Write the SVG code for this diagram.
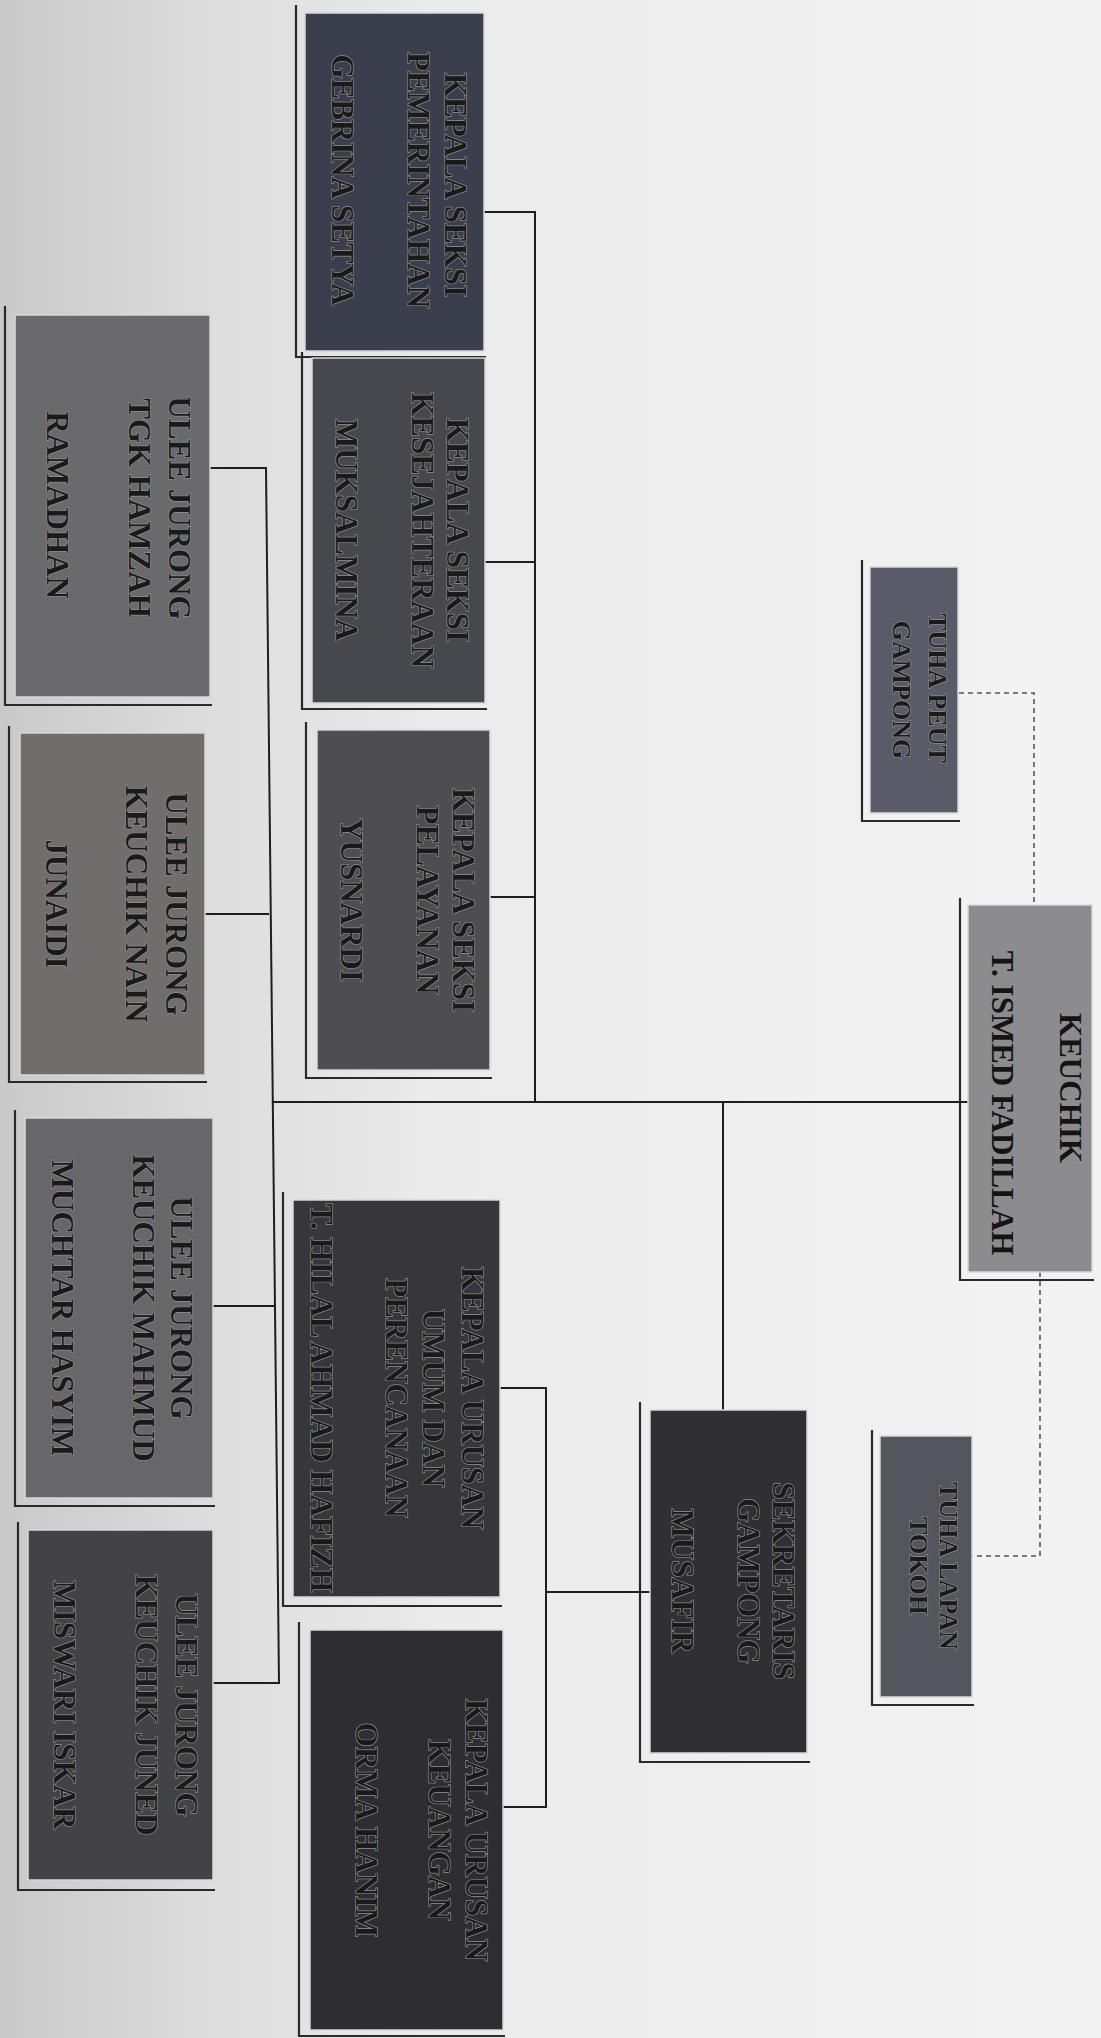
<svg xmlns="http://www.w3.org/2000/svg" width="1101" height="2038" viewBox="0 0 1101 2038">
<defs>
<linearGradient id="bg" x1="0" y1="0" x2="1" y2="0">
<stop offset="0" stop-color="#c9c9c9"/>
<stop offset="0.18" stop-color="#dcdcdc"/>
<stop offset="0.4" stop-color="#ebebeb"/>
<stop offset="1" stop-color="#f3f3f3"/>
</linearGradient>
<style>
.box{stroke:#d8d8d8;stroke-width:1.5}
.frame{fill:none;stroke:#2a2a2a;stroke-width:2.2}
.t{font-family:"Liberation Serif","Times New Roman",serif;font-weight:bold;font-size:31px;text-anchor:middle;fill:#1a1a1a;stroke:#8e8e8e;stroke-width:1.4;paint-order:stroke}
.ts{font-size:26px}
.k{fill:#141414;stroke:none}
.ln{fill:none;stroke:#1e1e1e;stroke-width:2}
.dash{fill:none;stroke:#555;stroke-width:1.6;stroke-dasharray:5 4}
</style>
</defs>
<rect width="1101" height="2038" fill="url(#bg)"/>

<g id="connectors">
<polyline class="ln" points="484,212 535,212 535,1102"/>
<line class="ln" x1="485" y1="562" x2="535" y2="562"/>
<line class="ln" x1="490" y1="897" x2="535" y2="897"/>
<line class="ln" x1="273" y1="1102" x2="968" y2="1102"/>
<line class="ln" x1="723" y1="1102" x2="723" y2="1410"/>
<line class="ln" x1="546" y1="1592" x2="650" y2="1592"/>
<polyline class="ln" points="500,1388 546,1388 546,1807 503,1807"/>
<polyline class="ln" points="210,468 266,468 279,1683 213,1683"/>
<line class="ln" x1="205" y1="914" x2="269" y2="914"/>
<line class="ln" x1="213" y1="1306" x2="274" y2="1306"/>
<polyline class="dash" points="959,693 1034,693 1034,905"/>
<polyline class="dash" points="1040,1272 1040,1556 972,1556"/>
</g>

<g id="kasi-pemerintahan">
<path class="frame" d="M296 5 V357 H486"/>
<rect class="box" x="305" y="13" width="179" height="338" fill="#3b3e4c"/>
<text class="t" transform="translate(445,185) rotate(90)">KEPALA SEKSI</text>
<text class="t" transform="translate(408,180) rotate(90)">PEMERINTAHAN</text>
<text class="t" transform="translate(332,180) rotate(90)">GEBRINA SETYA</text>
</g>

<g id="kasi-kesejahteraan">
<path class="frame" d="M302 352 V709 H487"/>
<rect class="box" x="312" y="358" width="173" height="345" fill="#47474e"/>
<text class="t" transform="translate(447,530) rotate(90)">KEPALA SEKSI</text>
<text class="t" transform="translate(412,530) rotate(90)">KESEJAHTERAAN</text>
<text class="t" transform="translate(336,530) rotate(90)">MUKSALMINA</text>
</g>

<g id="kasi-pelayanan">
<path class="frame" d="M306 722 V1078 H492"/>
<rect class="box" x="317" y="730" width="173" height="340" fill="#4d4d52"/>
<text class="t" transform="translate(453,900) rotate(90)">KEPALA SEKSI</text>
<text class="t" transform="translate(417,900) rotate(90)">PELAYANAN</text>
<text class="t" transform="translate(341,900) rotate(90)">YUSNARDI</text>
</g>

<g id="ulee-jurong-tgk-hamzah">
<path class="frame" d="M5 306 V705 H212"/>
<rect class="box" x="15" y="315" width="195" height="382" fill="#6a6a6c"/>
<text class="t" transform="translate(169,508) rotate(90)">ULEE JURONG</text>
<text class="t" transform="translate(129,508) rotate(90)">TGK HAMZAH</text>
<text class="t" transform="translate(47,505) rotate(90)">RAMADHAN</text>
</g>

<g id="ulee-jurong-keuchik-nain">
<path class="frame" d="M9 726 V1082 H207"/>
<rect class="box" x="20" y="733" width="185" height="342" fill="#716d6d"/>
<text class="t" transform="translate(166,904) rotate(90)">ULEE JURONG</text>
<text class="t" transform="translate(126,904) rotate(90)">KEUCHIK NAIN</text>
<text class="t" transform="translate(46,904) rotate(90)">JUNAIDI</text>
</g>

<g id="ulee-jurong-keuchik-mahmud">
<path class="frame" d="M15 1110 V1506 H215"/>
<rect class="box" x="25" y="1118" width="188" height="380" fill="#67676a"/>
<text class="t" transform="translate(171,1308) rotate(90)">ULEE JURONG</text>
<text class="t" transform="translate(133,1308) rotate(90)">KEUCHIK MAHMUD</text>
<text class="t" transform="translate(52,1308) rotate(90)">MUCHTAR HASYIM</text>
</g>

<g id="ulee-jurong-keuchik-juned">
<path class="frame" d="M18 1522 V1890 H215"/>
<rect class="box" x="28" y="1530" width="185" height="350" fill="#434347"/>
<text class="t" transform="translate(176,1705) rotate(90)">ULEE JURONG</text>
<text class="t" transform="translate(136,1705) rotate(90)">KEUCHIK JUNED</text>
<text class="t" transform="translate(54,1705) rotate(90)">MISWARI ISKAR</text>
</g>

<g id="kaur-umum-perencanaan">
<path class="frame" d="M283 1192 V1606 H502"/>
<rect class="box" x="293" y="1200" width="207" height="397" fill="#36363b"/>
<text class="t" transform="translate(462,1398) rotate(90)">KEPALA URUSAN</text>
<text class="t" transform="translate(423,1398) rotate(90)">UMUM DAN</text>
<text class="t" transform="translate(386,1398) rotate(90)">PERENCANAAN</text>
<text class="t" transform="translate(311,1398) rotate(90)">T. HILAL AHMAD HAFIZH</text>
</g>

<g id="kaur-keuangan">
<path class="frame" d="M299 1622 V2036 H505"/>
<rect class="box" x="310" y="1630" width="193" height="400" fill="#2d2d32"/>
<text class="t" transform="translate(466,1830) rotate(90)">KEPALA URUSAN</text>
<text class="t" transform="translate(429,1830) rotate(90)">KEUANGAN</text>
<text class="t" transform="translate(356,1830) rotate(90)">ORMA HANIM</text>
</g>

<g id="sekretaris-gampong">
<path class="frame" d="M640 1402 V1762 H810"/>
<rect class="box" x="650" y="1410" width="157" height="343" fill="#2f2f34"/>
<text class="t" transform="translate(773,1581) rotate(90)">SEKRETARIS</text>
<text class="t" transform="translate(738,1581) rotate(90)">GAMPONG</text>
<text class="t" transform="translate(672,1581) rotate(90)">MUSAFIR</text>
</g>

<g id="keuchik">
<path class="frame" d="M960 898 V1280 H1094"/>
<rect class="box" x="968" y="905" width="124" height="367" fill="#8c8c8f"/>
<text class="t k" transform="translate(1060,1088) rotate(90)">KEUCHIK</text>
<text class="t k" transform="translate(992,1103) rotate(90)">T. ISMED FADILLAH</text>
</g>

<g id="tuha-peut">
<path class="frame" d="M862 560 V821 H960"/>
<rect class="box" x="870" y="567" width="88" height="246" fill="#5a5a68"/>
<text class="t ts" transform="translate(929,688) rotate(90)">TUHA PEUT</text>
<text class="t ts" transform="translate(893,690) rotate(90)">GAMPONG</text>
</g>

<g id="tuha-lapan">
<path class="frame" d="M872 1430 V1705 H974"/>
<rect class="box" x="880" y="1436" width="92" height="261" fill="#55555e"/>
<text class="t ts" transform="translate(940,1566) rotate(90)">TUHA LAPAN</text>
<text class="t ts" transform="translate(910,1566) rotate(90)">TOKOH</text>
</g>
</svg>
